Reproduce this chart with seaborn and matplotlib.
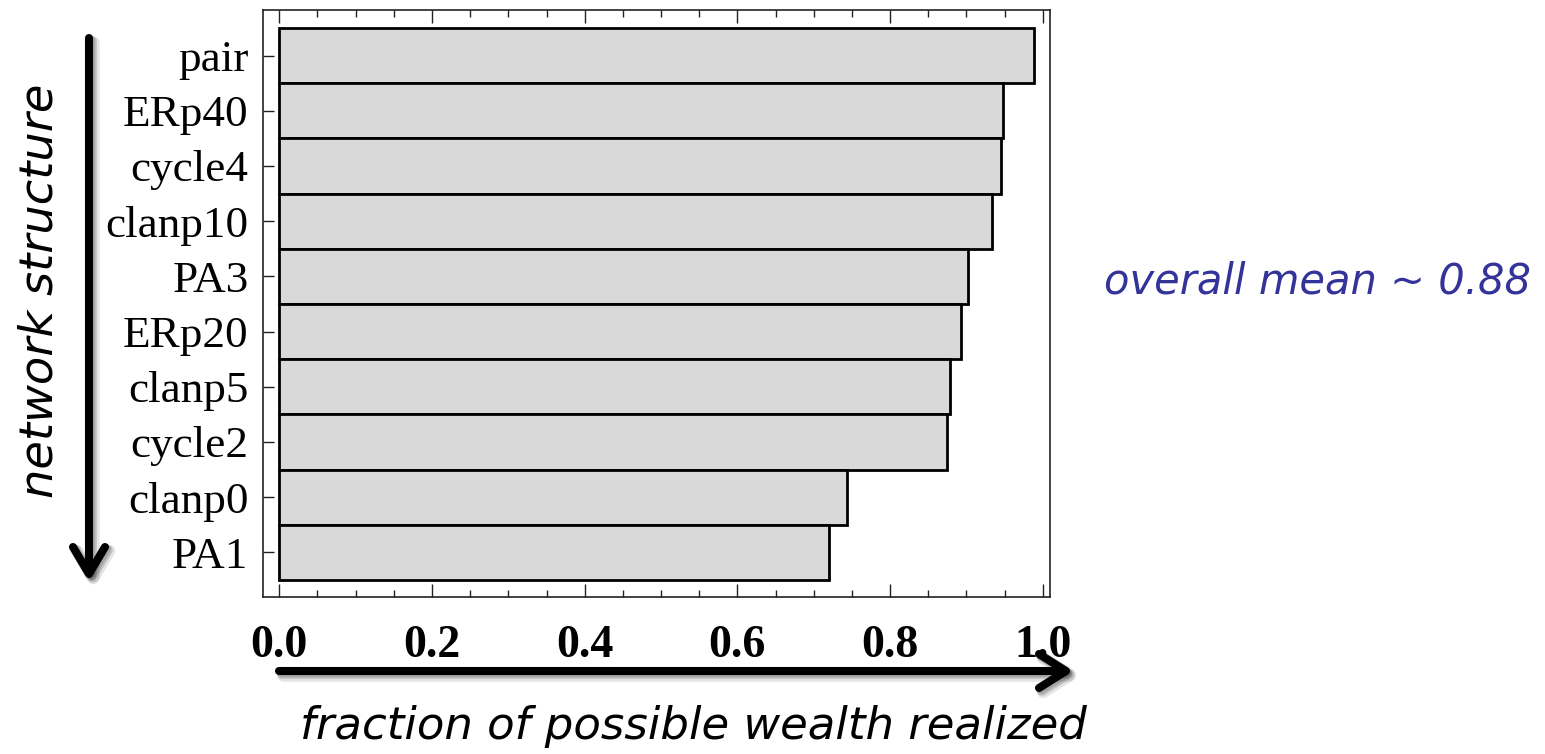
import numpy as np
import pandas as pd
import matplotlib
matplotlib.use("Agg")
import matplotlib.pyplot as plt
from matplotlib.lines import Line2D
from matplotlib.ticker import MultipleLocator
import seaborn as sns

# Network structures, ordered from highest to lowest realized wealth
structures = ["pair", "ERp40", "cycle4", "clanp10", "PA3",
              "ERp20", "clanp5", "cycle2", "clanp0", "PA1"]
wealth_fraction = [0.988, 0.948, 0.945, 0.934, 0.902,
                   0.893, 0.878, 0.874, 0.744, 0.720]
x_ticks = [0.0, 0.2, 0.4, 0.6, 0.8, 1.0]
x_tick_labels = ["0.0", "0.2", "0.4", "0.6", "0.8", "1.0"]

df = pd.DataFrame({"structure": structures, "fraction": wealth_fraction})

sns.set_style("white")
plt.rcParams["font.family"] = ["Liberation Serif", "DejaVu Serif"]
plt.rcParams["text.color"] = "black"
plt.rcParams["xtick.color"] = "black"
plt.rcParams["ytick.color"] = "black"

W, H = 1545, 754
fig = plt.figure(figsize=(W / 100, H / 100), dpi=100)
ax = fig.add_axes([263 / W, 1 - 597 / H, (1050 - 263) / W, (597 - 10) / H])

sns.barplot(data=df, x="fraction", y="structure", orient="h", ax=ax,
            color="#d9d9d9", saturation=1, width=1.0,
            edgecolor="black", linewidth=2.0)

ax.set_xlim(-0.0213, 1.0094)
ax.set_ylim(9.81, -0.826)
ax.set_xlabel("")
ax.set_ylabel("")

for s in ax.spines.values():
    s.set_color("#222222")
    s.set_linewidth(1.2)

ax.set_xticks(x_ticks)
ax.set_xticklabels(x_tick_labels, fontsize=33, fontweight="bold", color="black")
ax.xaxis.set_minor_locator(MultipleLocator(0.05))
ax.tick_params(axis="x", which="both", direction="in", top=True, bottom=True,
               width=1.0, color="#222222", pad=20)
ax.tick_params(axis="x", which="major", length=9.5)
ax.tick_params(axis="x", which="minor", length=5)
ax.tick_params(axis="y", which="major", direction="in", left=True, right=False,
               length=8, width=1.0, color="#222222", pad=10.5, labelsize=32.5,
               labelcolor="black")
ax.grid(False)


def fig_line(xs, ys, **kw):
    """Draw a polyline given in image pixel coordinates (origin top-left)."""
    fx = [x / W for x in xs]
    fy = [1 - y / H for y in ys]
    fig.add_artist(Line2D(fx, fy, transform=fig.transFigure,
                          solid_capstyle="round", solid_joinstyle="round", **kw))


def arrow(shaft_x, shaft_y, head_x, head_y, dx=0, dy=0, **kw):
    fig_line([x + dx for x in shaft_x], [y + dy for y in shaft_y], **kw)
    fig_line([x + dx for x in head_x], [y + dy for y in head_y], **kw)


V_SHAFT = ([89, 89], [38, 572])
V_HEAD = ([73, 89, 105], [547, 574, 547])
H_SHAFT = ([279, 1064], [671, 671])
H_HEAD = ([1039, 1066, 1039], [654, 671, 688])

# soft drop shadows behind the direction arrows
for off, a, lw in [(4, 0.10, 9), (3, 0.15, 7), (2, 0.15, 6)]:
    arrow(*V_SHAFT, *V_HEAD, dx=off, dy=off, color="black", alpha=a, lw=lw, zorder=4)
    arrow(*H_SHAFT, *H_HEAD, dx=off, dy=off, color="black", alpha=a, lw=lw, zorder=4)

# direction arrows along the axes
arrow(*V_SHAFT, *V_HEAD, color="black", lw=5.8, zorder=5)
arrow(*H_SHAFT, *H_HEAD, color="black", lw=5.8, zorder=5)

hand = dict(family=["DejaVu Sans"], style="oblique")
fig.text(40 / W, 1 - 291 / H, "network structure", rotation=90,
         ha="center", va="center", fontsize=33.4, color="black", **hand)
fig.text(693 / W, 1 - 727 / H, "fraction of possible wealth realized",
         ha="center", va="center", fontsize=32.4, color="black", **hand)
fig.text(1317 / W, 1 - 281 / H, "overall mean ~ 0.88",
         ha="center", va="center", fontsize=30, color="#333399", **hand)

fig.savefig("out.png", dpi=100)
